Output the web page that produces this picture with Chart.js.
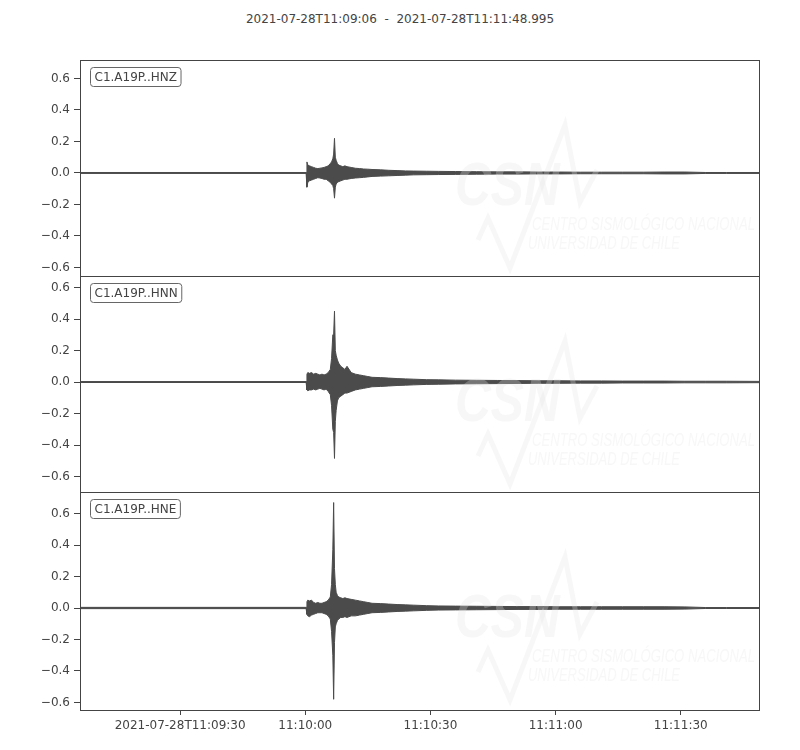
<!DOCTYPE html>
<html>
<head>
<meta charset="utf-8">
<script src="https://cdn.jsdelivr.net/npm/chart.js@4.4.0/dist/chart.umd.min.js"></script>
<style>
    html, body { margin: 0; padding: 0; background: #fff; }
    #lienzo { position: relative; width: 800px; height: 750px; font-family: 'DejaVu Sans', sans-serif; }
    #titulo { position: absolute; top: 12px; left: 0; width: 800px; text-align: center; font-size: 12px; color: #444; white-space: pre; }
    canvas { position: absolute; left: 0; }
</style>
</head>
<body>
<div id="lienzo">
    <div id="titulo">2021-07-28T11:09:06  -  2021-07-28T11:11:48.995</div>
    <canvas id="panelHNZ" width="800" height="256" style="top:40px"></canvas>
    <canvas id="panelHNN" width="800" height="256" style="top:256px"></canvas>
    <canvas id="panelHNE" width="800" height="278" style="top:472px"></canvas>
</div>
<script>
// Tiempo en segundos desde 2021-07-28T11:09:06
const tiempos = [0, 54.2, 54.4, 54.6, 55.0, 55.5, 56, 56.5, 57, 57.5, 58, 58.5, 59, 59.5, 60, 60.3, 60.6, 60.8, 61.0, 61.2, 61.4, 61.7, 62, 62.5, 63, 63.5, 64, 65, 66, 67, 68, 69, 70, 72, 74, 76, 78, 80, 83, 86, 90, 95, 100, 105, 110, 115, 120, 125, 130, 135, 140, 145, 150, 155, 163];

// Envolvente superior / inferior de cada canal
const hnzSup = [0.003, 0.003, 0.07, 0.05, 0.045, 0.04, 0.035, 0.03, 0.028, 0.03, 0.032, 0.035, 0.04, 0.045, 0.06, 0.07, 0.09, 0.12, 0.22, 0.1, 0.08, 0.06, 0.05, 0.045, 0.04, 0.045, 0.04, 0.035, 0.03, 0.028, 0.025, 0.024, 0.022, 0.02, 0.017, 0.015, 0.013, 0.012, 0.011, 0.01, 0.009, 0.008, 0.007, 0.007, 0.006, 0.006, 0.005, 0.005, 0.005, 0.005, 0.006, 0.006, 0.003, 0.003, 0.003];
const hnzInf = [-0.003, -0.003, -0.09, -0.06, -0.05, -0.045, -0.04, -0.035, -0.03, -0.032, -0.035, -0.04, -0.04, -0.05, -0.06, -0.07, -0.08, -0.1, -0.16, -0.09, -0.07, -0.06, -0.055, -0.05, -0.045, -0.04, -0.04, -0.035, -0.032, -0.03, -0.028, -0.025, -0.022, -0.02, -0.018, -0.016, -0.014, -0.012, -0.011, -0.01, -0.009, -0.008, -0.007, -0.007, -0.006, -0.006, -0.005, -0.005, -0.005, -0.005, -0.006, -0.006, -0.003, -0.003, -0.003];

const hnnSup = [0.003, 0.003, 0.05, 0.06, 0.055, 0.06, 0.05, 0.055, 0.05, 0.045, 0.05, 0.045, 0.05, 0.06, 0.08, 0.15, 0.3, 0.3, 0.45, 0.2, 0.17, 0.14, 0.12, 0.1, 0.09, 0.08, 0.1, 0.06, 0.05, 0.045, 0.04, 0.035, 0.03, 0.028, 0.025, 0.022, 0.02, 0.018, 0.015, 0.014, 0.012, 0.011, 0.01, 0.009, 0.008, 0.008, 0.007, 0.007, 0.006, 0.006, 0.006, 0.005, 0.005, 0.005, 0.004];
const hnnInf = [-0.003, -0.003, -0.05, -0.055, -0.05, -0.05, -0.045, -0.05, -0.045, -0.04, -0.045, -0.05, -0.045, -0.06, -0.08, -0.15, -0.3, -0.32, -0.485, -0.25, -0.18, -0.12, -0.1, -0.09, -0.08, -0.07, -0.07, -0.06, -0.05, -0.045, -0.04, -0.035, -0.03, -0.028, -0.025, -0.022, -0.02, -0.018, -0.015, -0.014, -0.012, -0.011, -0.01, -0.009, -0.008, -0.008, -0.007, -0.007, -0.006, -0.006, -0.006, -0.005, -0.005, -0.005, -0.004];

const hneSup = [0.004, 0.004, 0.04, 0.05, 0.045, 0.05, 0.035, 0.03, 0.035, 0.03, 0.03, 0.035, 0.04, 0.05, 0.07, 0.15, 0.37, 0.67, 0.25, 0.15, 0.1, 0.08, 0.07, 0.065, 0.06, 0.065, 0.06, 0.055, 0.05, 0.045, 0.04, 0.035, 0.03, 0.028, 0.025, 0.022, 0.02, 0.018, 0.015, 0.013, 0.012, 0.011, 0.01, 0.009, 0.009, 0.008, 0.008, 0.008, 0.008, 0.008, 0.008, 0.007, 0.003, 0.003, 0.003];
const hneInf = [-0.004, -0.004, -0.04, -0.05, -0.055, -0.045, -0.04, -0.035, -0.03, -0.03, -0.03, -0.035, -0.04, -0.05, -0.07, -0.15, -0.3, -0.58, -0.22, -0.12, -0.1, -0.08, -0.07, -0.06, -0.06, -0.055, -0.06, -0.05, -0.05, -0.045, -0.04, -0.035, -0.03, -0.028, -0.025, -0.022, -0.02, -0.018, -0.015, -0.013, -0.012, -0.011, -0.01, -0.009, -0.009, -0.008, -0.008, -0.008, -0.008, -0.008, -0.008, -0.007, -0.003, -0.003, -0.003];

const canales = ['C1.A19P..HNZ', 'C1.A19P..HNN', 'C1.A19P..HNE'];
const ticksY = [-0.6, -0.4, -0.2, 0, 0.2, 0.4, 0.6];
const ticksX = [24, 54, 84, 114, 144];
const etiquetasX = ['2021-07-28T11:09:30', '11:10:00', '11:10:30', '11:11:00', '11:11:30'];
const limitesY = [[-0.654, 0.717], [-0.698, 0.673], [-0.648, 0.737]];
const duracion = 162.995;

const colorTraza = '#4b4b4b';
const colorTexto = '#444';
const fuente = "'DejaVu Sans', sans-serif";

// Marco, marca de agua y etiqueta del canal
const decoracion = {
    id: 'decoracion',
    afterDatasetsDraw(chart, args, opts) {
        const { ctx, chartArea: a } = chart;
        const x0 = a.left, y0 = a.top;

        // marca de agua CSN
        ctx.save();
        ctx.fillStyle = 'rgba(225,225,225,0.28)';
        ctx.strokeStyle = 'rgba(225,225,225,0.28)';
        ctx.beginPath();
        ctx.rect(a.left, a.top, a.right - a.left, a.bottom - a.top);
        ctx.clip();
        ctx.lineWidth = 5;
        ctx.beginPath();
        [[398, 180], [408, 158], [430, 208], [485, 65], [500, 142], [517, 110]].forEach((p, i) => {
            if (i === 0) ctx.moveTo(x0 + p[0], y0 + p[1]);
            else ctx.lineTo(x0 + p[0], y0 + p[1]);
        });
        ctx.stroke();
        ctx.save();
        ctx.translate(x0 + 375, y0 + 145);
        ctx.scale(0.8, 1);
        ctx.font = "italic bold 62px 'Liberation Sans', sans-serif";
        ctx.fillText('CSN', 0, 0);
        ctx.restore();
        ctx.font = "italic 18px 'Liberation Sans Narrow', 'Liberation Sans', sans-serif";
        ctx.fillText('CENTRO SISMOLÓGICO NACIONAL', x0 + 452, y0 + 170, 223);
        ctx.fillText('UNIVERSIDAD DE CHILE', x0 + 448, y0 + 189, 152);
        ctx.restore();

        // marco del panel
        ctx.save();
        ctx.strokeStyle = '#444';
        ctx.lineWidth = 1;
        ctx.strokeRect(Math.round(a.left) + 0.5, Math.round(a.top) + 0.5,
            Math.round(a.right - a.left) - 1, Math.round(a.bottom - a.top));
        ctx.restore();

        // etiqueta del canal
        ctx.save();
        ctx.font = '12px ' + fuente;
        const ancho = ctx.measureText(opts.texto).width + 8;
        const bx = x0 + 10.5, by = y0 + 7.5, alto = 19;
        ctx.beginPath();
        ctx.roundRect(bx, by, ancho, alto, 3);
        ctx.fillStyle = '#fff';
        ctx.fill();
        ctx.strokeStyle = '#666';
        ctx.lineWidth = 1;
        ctx.stroke();
        ctx.fillStyle = colorTexto;
        ctx.textBaseline = 'middle';
        ctx.fillText(opts.texto, bx + 4, by + alto / 2 + 0.5);
        ctx.restore();
    }
};

function formatoY(v) {
    return v.toFixed(1).replace('-', '\u2212');
}

function crearPanel(idCanvas, indice, sup, inf, esUltimo) {
    new Chart(document.getElementById(idCanvas).getContext('2d'), {
        type: 'line',
        data: {
            datasets: [
                {
                    data: tiempos.map((t, i) => ({ x: t, y: sup[i] })),
                    borderColor: colorTraza,
                    backgroundColor: colorTraza,
                    borderWidth: 1,
                    pointRadius: 0,
                    tension: 0,
                    fill: '+1'
                },
                {
                    data: tiempos.map((t, i) => ({ x: t, y: inf[i] })),
                    borderColor: colorTraza,
                    borderWidth: 1,
                    pointRadius: 0,
                    tension: 0,
                    fill: false
                }
            ]
        },
        options: {
            responsive: false,
            animation: false,
            layout: { padding: { left: 0, right: 40, top: 20, bottom: esUltimo ? 0 : 20 } },
            plugins: {
                legend: { display: false },
                tooltip: { enabled: false },
                decoracion: { texto: canales[indice] }
            },
            scales: {
                x: {
                    type: 'linear',
                    min: 0,
                    max: duracion,
                    display: esUltimo,
                    border: { display: false },
                    grid: { drawOnChartArea: false, tickLength: 5, color: '#444' },
                    ticks: {
                        color: colorTexto,
                        font: { family: fuente, size: 12 },
                        padding: 4,
                        maxRotation: 0,
                        autoSkip: false,
                        callback: (v) => etiquetasX[ticksX.indexOf(v)]
                    },
                    afterBuildTicks: (s) => { s.ticks = ticksX.map(v => ({ value: v })); },
                    afterFit: (s) => { s.height = esUltimo ? 40 : 0; }
                },
                y: {
                    min: limitesY[indice][0],
                    max: limitesY[indice][1],
                    border: { display: false },
                    grid: { drawOnChartArea: false, tickLength: 6, color: '#444' },
                    ticks: {
                        color: colorTexto,
                        font: { family: fuente, size: 12 },
                        padding: 4,
                        callback: (v) => formatoY(v)
                    },
                    afterBuildTicks: (s) => { s.ticks = ticksY.map(v => ({ value: v })); },
                    afterFit: (s) => { s.width = 80; }
                }
            }
        },
        plugins: [decoracion]
    });
}

crearPanel('panelHNZ', 0, hnzSup, hnzInf, false);
crearPanel('panelHNN', 1, hnnSup, hnnInf, false);
crearPanel('panelHNE', 2, hneSup, hneInf, true);
</script>
</body>
</html>
